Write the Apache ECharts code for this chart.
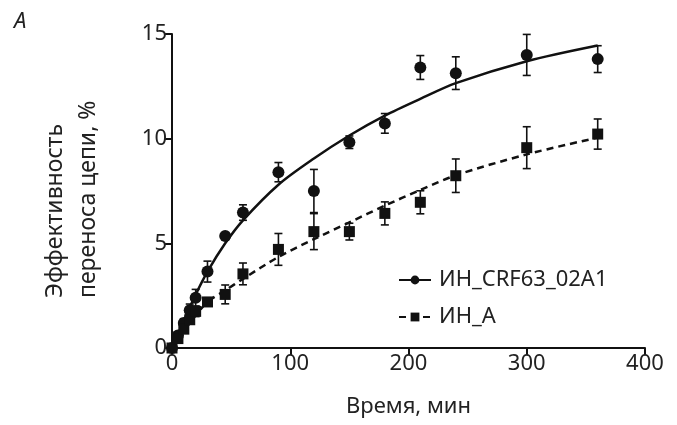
<!DOCTYPE html>
<html lang="ru">
<head>
<meta charset="UTF-8">
<title>Эффективность переноса цепи</title>
<script src="https://cdn.jsdelivr.net/npm/echarts@6/dist/echarts.min.js"></script>
<style>
  html, body { margin: 0; padding: 0; background: #fff; }
  #chart { width: 677px; height: 425px; }
</style>
</head>
<body>
<div id="chart"></div>
<script type="text/javascript">
// времена отбора проб, мин
var times = [0, 5, 10, 15, 20, 30, 45, 60, 90, 120, 150, 180, 210, 240, 300, 360];

// ИН_CRF63_02A1: среднее и ошибка
var crfMean = [0, 0.6, 1.2, 1.8, 2.4, 3.65, 5.35, 6.47, 8.4, 7.5, 9.83, 10.73, 13.4, 13.13, 14.0, 13.8];
var crfErr  = [0, 0.15, 0.2, 0.3, 0.4, 0.5, 0.12, 0.37, 0.46, 1.03, 0.3, 0.47, 0.57, 0.78, 0.98, 0.64];

// ИН_A: среднее и ошибка
var aMean = [0, 0.45, 0.9, 1.35, 1.75, 2.2, 2.56, 3.54, 4.71, 5.56, 5.56, 6.43, 6.96, 8.23, 9.57, 10.22];
var aErr  = [0, 0.1, 0.15, 0.2, 0.25, 0.2, 0.45, 0.52, 0.76, 0.86, 0.4, 0.55, 0.55, 0.8, 1.0, 0.72];

// аппроксимирующие кривые
var fitTimes = [0, 10, 20, 30, 45, 60, 90, 120, 150, 180, 210, 240, 300, 360];
var crfFit = [0, 1.3, 2.55, 3.65, 5.0, 6.1, 7.8, 9.05, 10.15, 11.1, 11.9, 12.65, 13.7, 14.45];
var aFit   = [0, 0.8, 1.55, 2.2, 2.75, 3.3, 4.35, 5.2, 6.0, 6.8, 7.55, 8.25, 9.25, 10.05];

var xTicks = [0, 100, 200, 300, 400];
var yTicks = [0, 5, 10, 15];

var FONT = 'Noto Sans';

function pairs(xs, ys) {
    var out = [];
    for (var i = 0; i < xs.length; i++) out.push([xs[i], ys[i]]);
    return out;
}
function bars(xs, ys, es) {
    var out = [];
    for (var i = 0; i < xs.length; i++) {
        if (es[i] > 0) out.push([xs[i], ys[i] - es[i], ys[i] + es[i]]);
    }
    return out;
}
function renderBar(params, api) {
    var lo = api.coord([api.value(0), api.value(1)]);
    var hi = api.coord([api.value(0), api.value(2)]);
    var w = 4;
    var st = { stroke: '#111', lineWidth: 1.6 };
    return {
        type: 'group',
        children: [
            { type: 'line', shape: { x1: lo[0], y1: lo[1], x2: hi[0], y2: hi[1] }, style: st },
            { type: 'line', shape: { x1: lo[0] - w, y1: lo[1], x2: lo[0] + w, y2: lo[1] }, style: st },
            { type: 'line', shape: { x1: hi[0] - w, y1: hi[1], x2: hi[0] + w, y2: hi[1] }, style: st }
        ]
    };
}

var myChart = echarts.init(document.getElementById('chart'), null, { renderer: 'canvas' });

var axisCommon = {
    type: 'value',
    axisLine: { show: true, lineStyle: { color: '#111', width: 2 } },
    axisTick: { show: true, inside: false, length: 7, lineStyle: { color: '#111', width: 2 } },
    axisLabel: { color: '#222', fontFamily: FONT, fontSize: 22, margin: 5 },
    splitLine: { show: false }
};

myChart.setOption({
    animation: false,
    grid: { left: 172, right: 32, top: 34, bottom: 77 },
    xAxis: echarts.util.merge({
        min: xTicks[0], max: xTicks[xTicks.length - 1], interval: 100,
        name: 'Время, мин', nameLocation: 'middle', nameGap: 48,
        nameTextStyle: { color: '#222', fontFamily: FONT, fontSize: 22 }
    }, axisCommon),
    yAxis: echarts.util.merge({
        min: yTicks[0], max: yTicks[yTicks.length - 1], interval: 5
    }, axisCommon),
    legend: {
        orient: 'vertical',
        left: 393, top: 264,
        itemWidth: 32, itemHeight: 11, itemGap: 15,
        textStyle: { color: '#222', fontFamily: FONT, fontSize: 22, padding: [0, 0, 0, 3] },
        data: ['ИН_CRF63_02A1', 'ИН_A']
    },
    graphic: [
        {
            type: 'text', left: 14, top: 11,
            style: { text: 'A', fontFamily: FONT, fontSize: 22, fontStyle: 'italic', fill: '#222' }
        },
        {
            type: 'text', x: 72, y: 298, rotation: Math.PI / 2,
            style: {
                text: 'Эффективность\nпереноса цепи, %',
                fontFamily: FONT, fontSize: 23, lineHeight: 33,
                align: 'left', verticalAlign: 'middle', fill: '#222'
            }
        }
    ],
    series: [
        {
            name: 'ИН_CRF63_02A1', type: 'line', data: pairs(fitTimes, crfFit),
            smooth: 0.3, symbol: 'circle', showSymbol: false,
            lineStyle: { color: '#111', width: 2.5 }, itemStyle: { color: '#111' }, z: 2
        },
        {
            name: 'ИН_A', type: 'line', data: pairs(fitTimes, aFit),
            smooth: 0.3, symbol: 'rect', showSymbol: false,
            lineStyle: { color: '#111', width: 2.5, type: [7, 5] }, itemStyle: { color: '#111' }, z: 2
        },
        {
            type: 'custom', renderItem: renderBar, data: bars(times, crfMean, crfErr),
            encode: { x: 0, y: [1, 2] }, clip: false, z: 3
        },
        {
            type: 'custom', renderItem: renderBar, data: bars(times, aMean, aErr),
            encode: { x: 0, y: [1, 2] }, clip: false, z: 3
        },
        {
            type: 'scatter', data: pairs(times, crfMean), symbol: 'circle', symbolSize: 12,
            itemStyle: { color: '#111', opacity: 1 }, clip: false, z: 4
        },
        {
            type: 'scatter', data: pairs(times, aMean), symbol: 'rect', symbolSize: 11,
            itemStyle: { color: '#111', opacity: 1 }, clip: false, z: 4
        }
    ]
});
</script>
</body>
</html>
